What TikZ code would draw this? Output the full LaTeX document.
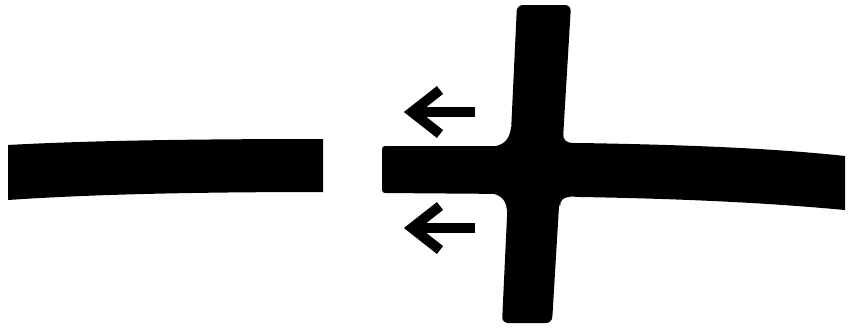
\documentclass[tikz,border=0pt]{standalone}
\usepackage{tikz}
\begin{document}
\begin{tikzpicture}[x=0.02cm,y=-0.02cm,
        bar/.style={fill=black},
        push/.style={draw=black,line width=0.2cm,line join=miter,line cap=butt}]
        \useasboundingbox (0,0) rectangle (852,329);

        % left piece
        \fill[bar] (8,145) .. controls (80,141) and (180,139) .. (323,139) -- (323,192)
            .. controls (180,192) and (80,195) .. (8,200) -- cycle;

        % right piece
        \fill[bar,rounded corners=0.06cm] (382,146) -- (512,146) -- (512,194) -- (382,193) -- cycle;
        \fill[bar] (510,145) -- (580,143) .. controls (700,145) and (780,149) .. (845,156)
            -- (845,210) .. controls (780,204) and (700,199) .. (580,197) -- (508,193) -- cycle;

        % crossing piece
        \fill[bar,rounded corners=0.12cm] (517,5) -- (571,5) -- (552,323) -- (502,323) -- cycle;

        % fillets at the joint
        \fill[bar] (490,147) .. controls (505,146) and (510,138) .. (511,127) -- (514,150) -- cycle;
        \fill[bar] (488,193) .. controls (502,194) and (507,201) .. (507,213) -- (512,190) -- cycle;
        \fill[bar] (563,133) .. controls (563,140) and (566,143) .. (574,143) -- (558,150) -- cycle;
        \fill[bar] (560,207) .. controls (560,200) and (563,197) .. (571,197) -- (555,190) -- cycle;

        % arrows
        \draw[push] (440,90) -- (412,112) -- (440,134);
        \draw[push] (412,112) -- (475,112);
        \draw[push] (440,206) -- (412,228) -- (440,250);
        \draw[push] (412,228) -- (475,228);
\end{tikzpicture}
\end{document}
